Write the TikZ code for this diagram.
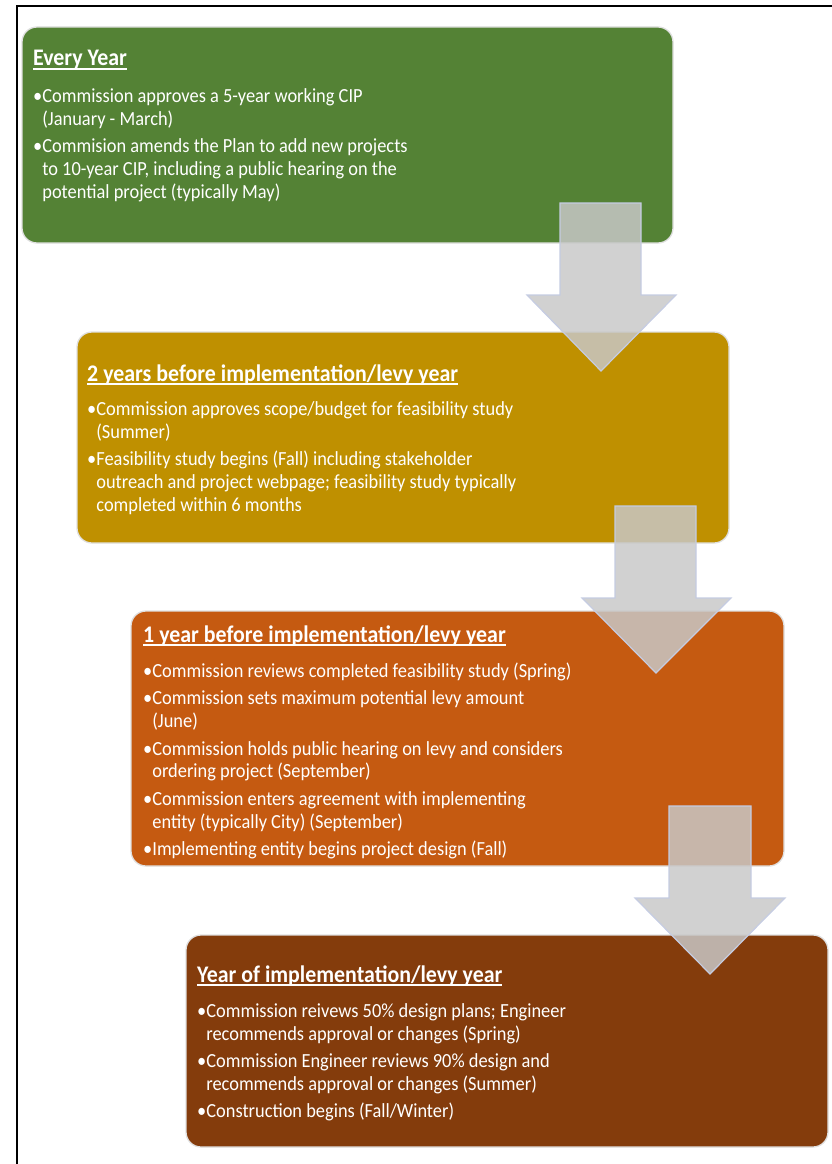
\documentclass[tikz,border=0pt]{standalone}
\usepackage{fontspec}
\newfontfamily\calib[FakeStretch=0.92]{Carlito}
\definecolor{cgreen}{HTML}{548235}
\definecolor{cgold}{HTML}{BF9000}
\definecolor{corange}{HTML}{C55A11}
\definecolor{cbrown}{HTML}{843C0C}
\definecolor{arrowfill}{HTML}{C8C8C8}
\definecolor{arrowline}{HTML}{C5CCE2}
\newcommand\myul[1]{\setbox0\hbox{#1}\rlap{\rule[-3.8pt]{\wd0}{1.5pt}}\box0}
\newcommand\fl{\rule{0pt}{16pt}}
\newcommand\ind{\hphantom{\textbullet}}
\tikzset{
  stage/.style={rounded corners=15pt, draw=black!12, line width=1.3pt},
  ttl/.style={font=\calib\bfseries\fontsize{23.8}{27}\selectfont, text=white, inner sep=0pt, anchor=base west},
  body/.style={font=\calib\fontsize{20}{22.8}\selectfont, text=white, align=left, inner sep=0pt, anchor=north west},
  blockarrow/.style={fill=arrowfill, fill opacity=0.84, draw=arrowline, line width=1.2pt, line join=miter}
}
\begin{document}
\begin{tikzpicture}[x=1pt,y=-1pt]
\useasboundingbox (0,0) rectangle (832,1164);
\begin{scope}
\clip (0,0) rectangle (832,1164);
\draw[line width=2pt] (900,6) -- (17,6) -- (17,1200);
\end{scope}
% stage boxes
\draw[stage, fill=cgreen] (22,27) rectangle (673,243);
\draw[stage, fill=cgold] (77,332) rectangle (729,543);
\draw[stage, fill=corange] (131,611) rectangle (784,866);
\draw[stage, fill=cbrown] (186,935) rectangle (828,1147);
% texts
\node[ttl] (t1) at (33,66) {\myul{Every Year}};
\node[body] (b1) at (33,86) {\fl\textbullet Commission approves a 5-year working CIP\\
\ind(January - March)\\[4.7pt]
\textbullet Commision amends the Plan to add new projects\\
\ind to 10-year CIP, including a public hearing on the\\
\ind potential project (typically May)};
\node[ttl] (t2) at (87,381) {\myul{2 years before implementation/levy year}};
\node[body] (b2) at (87,399) {\fl\textbullet Commission approves scope/budget for feasibility study\\
\ind(Summer)\\[4.7pt]
\textbullet Feasibility study begins (Fall) including stakeholder\\
\ind outreach and project webpage; feasibility study typically\\
\ind completed within 6 months};
\node[ttl] (t3) at (143,642) {\myul{1 year before implementation/levy year}};
\node[body] (b3) at (143,661) {\fl\textbullet Commission reviews completed feasibility study (Spring)\\[4.7pt]
\textbullet Commission sets maximum potential levy amount\\
\ind(June)\\[4.7pt]
\textbullet Commission holds public hearing on levy and considers\\
\ind ordering project (September)\\[4.7pt]
\textbullet Commission enters agreement with implementing\\
\ind entity (typically City) (September)\\[4.7pt]
\textbullet Implementing entity begins project design (Fall)};
\node[ttl] (t4) at (197,982) {\myul{Year of implementation/levy year}};
\node[body] (b4) at (197,1001) {\fl\textbullet Commission reivews 50\% design plans; Engineer\\
\ind recommends approval or changes (Spring)\\[4.7pt]
\textbullet Commission Engineer reviews 90\% design and\\
\ind recommends approval or changes (Summer)\\[4.7pt]
\textbullet Construction begins (Fall/Winter)};
% block arrows
\draw[blockarrow] (560,203) -- (641,203) -- (641,295) -- (676,295) -- (601,371) -- (527,295) -- (560,295) -- cycle;
\draw[blockarrow] (615,506) -- (696,506) -- (696,598) -- (731,598) -- (656,673) -- (582,598) -- (615,598) -- cycle;
\draw[blockarrow] (669,806) -- (751,806) -- (751,898) -- (785,898) -- (710,974) -- (635,898) -- (669,898) -- cycle;
\end{tikzpicture}
\end{document}
